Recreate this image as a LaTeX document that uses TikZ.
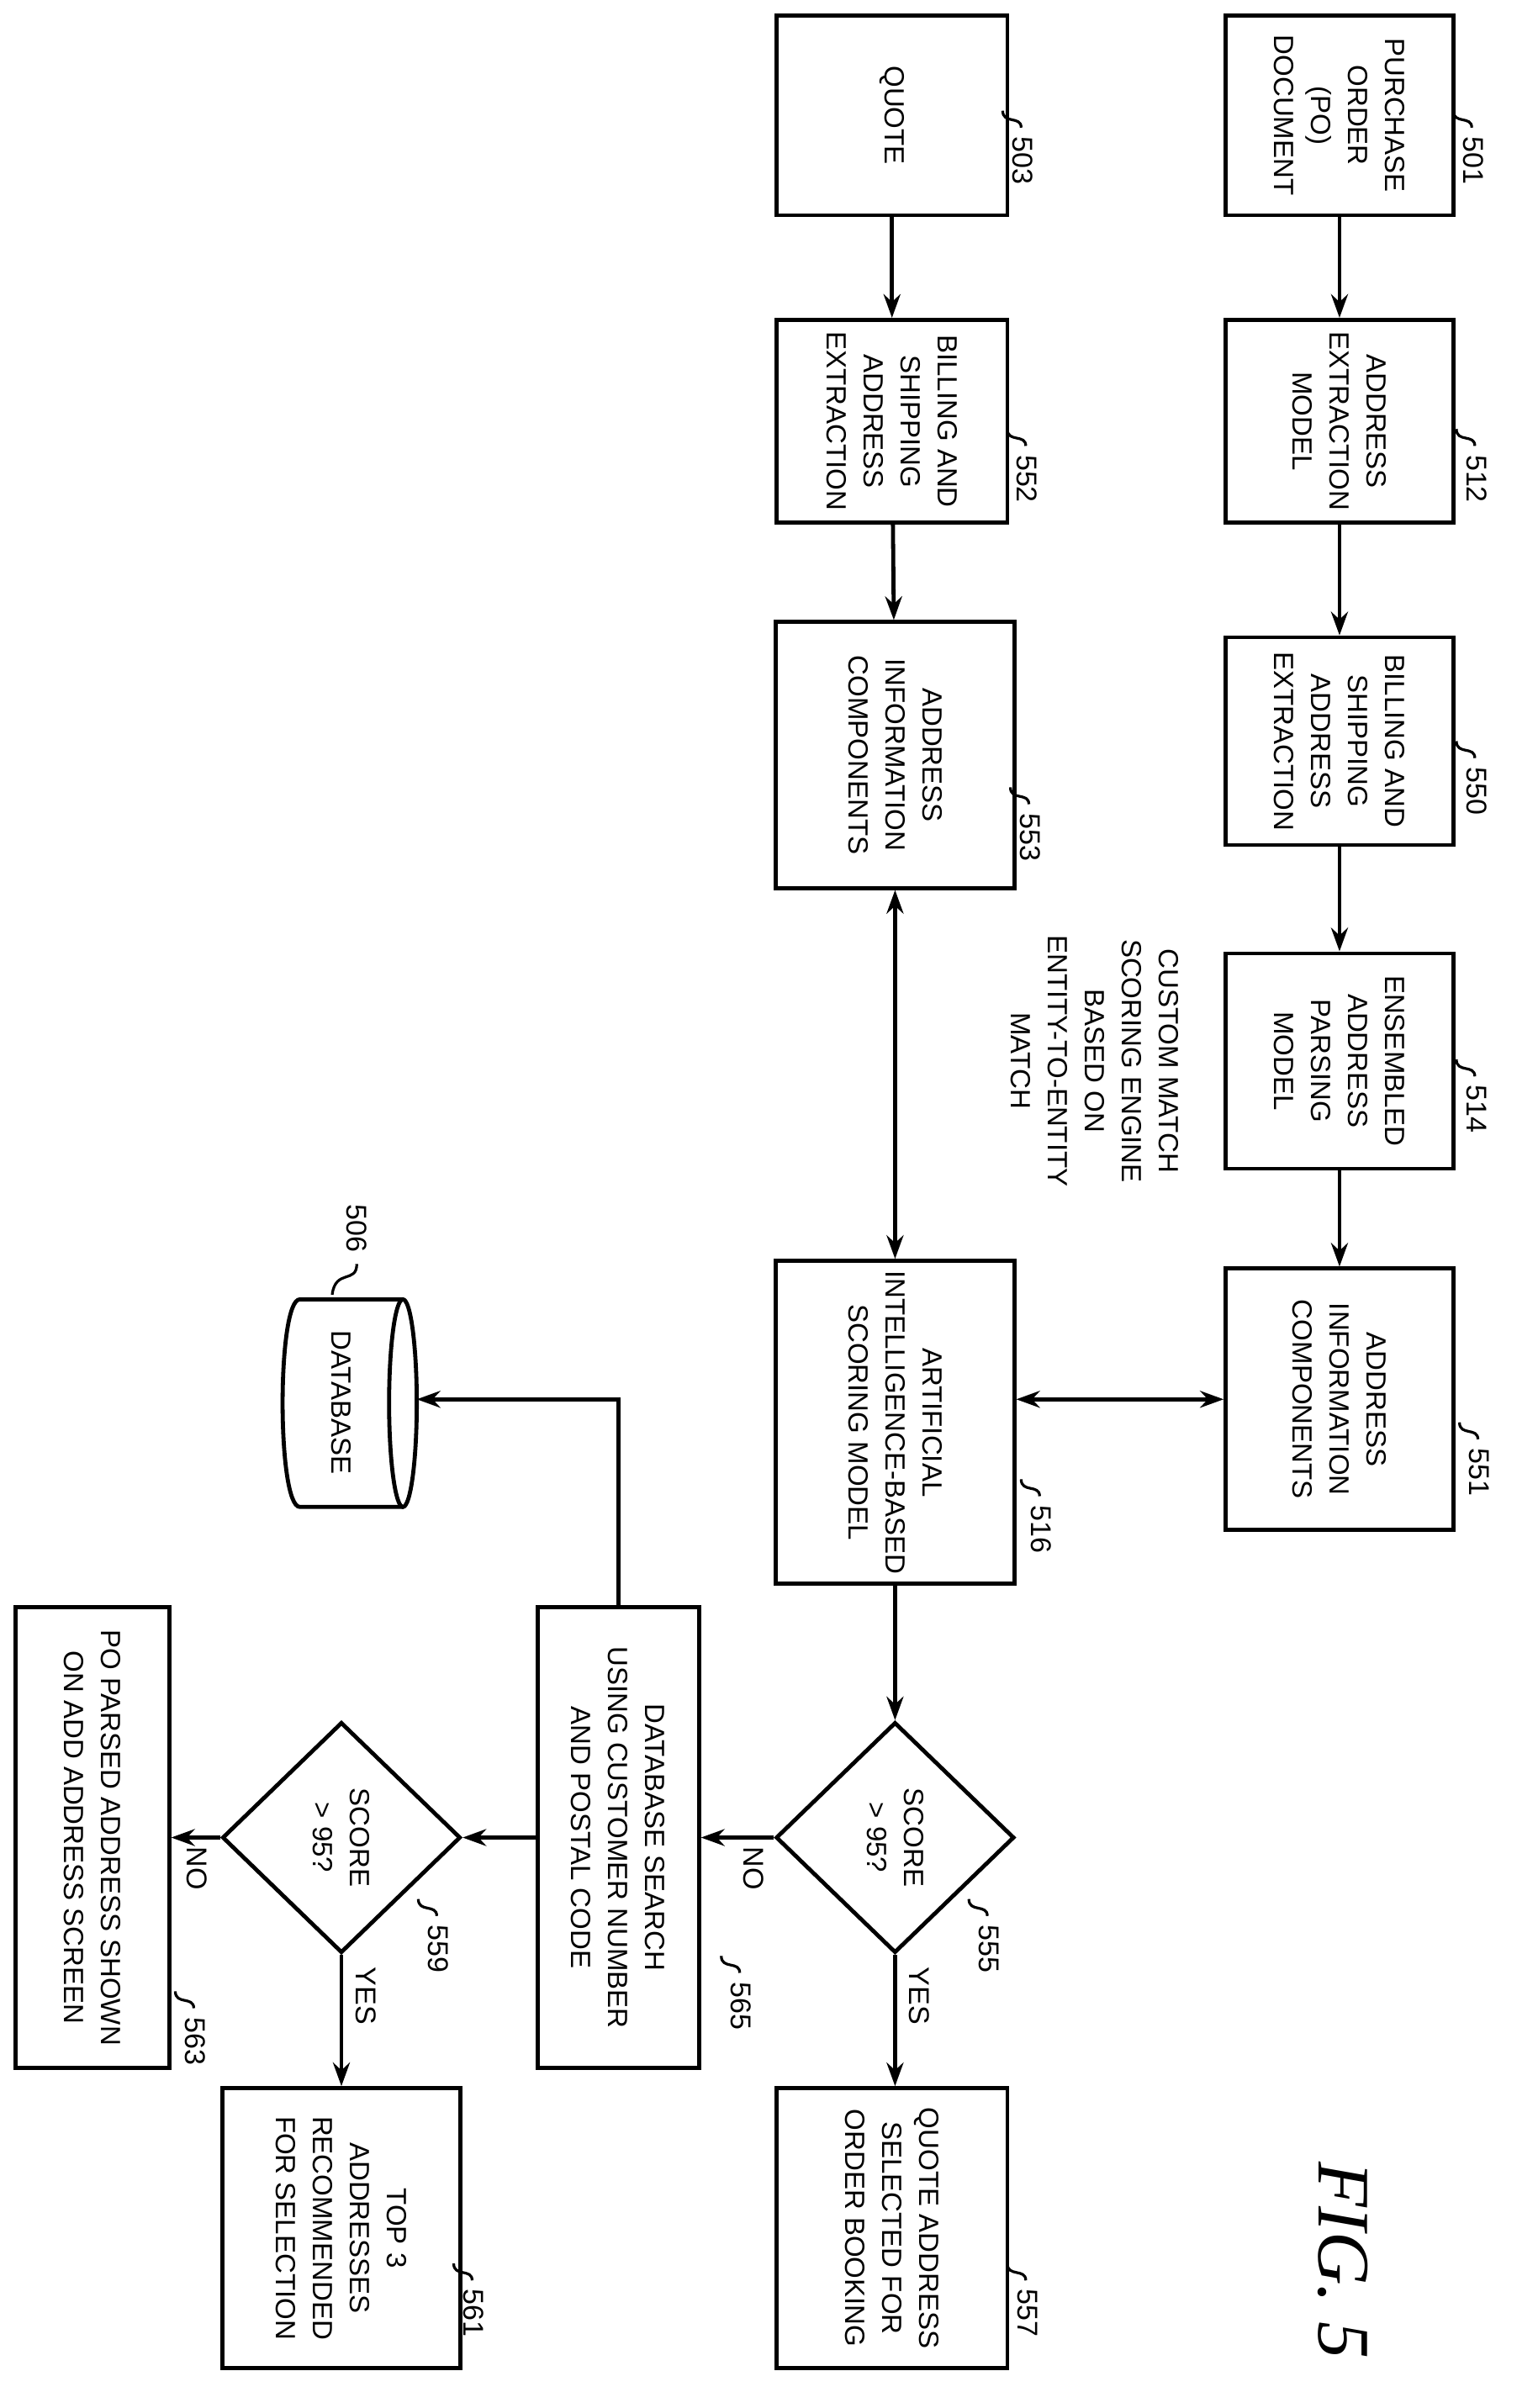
\documentclass[tikz,border=0pt]{standalone}
\usepackage{fontspec}
\setmainfont{Liberation Sans}
\newfontfamily\figfont{Liberation Serif}
\usetikzlibrary{shapes.geometric,arrows.meta}
\begin{document}
\def\u{0.914pt}
\begin{tikzpicture}[x=0.914pt,y=-0.914pt,
  box/.style={draw,line width=2.4pt,rotate=-90,align=center,inner sep=0pt,font=\fontsize{16.5}{22}\selectfont},
  txt/.style={rotate=-90,align=center,font=\fontsize{16.5}{22}\selectfont},
  lab/.style={rotate=-90,font=\fontsize{17}{20}\selectfont},
  dia/.style={draw,line width=2.4pt,diamond,inner sep=0pt},
  arr/.style={line width=2.4pt,-{Stealth[length=14pt,width=10pt]}},
  arr2/.style={line width=2.4pt,{Stealth[length=14pt,width=10pt]}-{Stealth[length=14pt,width=10pt]}},
  sq/.style={line width=1.6pt}]
\useasboundingbox (0,0) rectangle (1000,1566);
\node[box,minimum width=130*\u,minimum height=148*\u] (b501) at (871,75) {PURCHASE\\ORDER\\(PO)\\DOCUMENT};
\node[box,minimum width=130*\u,minimum height=150*\u] (b503) at (580,75) {QUOTE};
\node[box,minimum width=132*\u,minimum height=148*\u] (b512) at (871,274) {ADDRESS\\EXTRACTION\\MODEL};
\node[box,minimum width=132*\u,minimum height=150*\u] (b552) at (580,274) {BILLING AND\\SHIPPING\\ADDRESS\\EXTRACTION};
\node[box,minimum width=135*\u,minimum height=148*\u] (b550) at (871,482) {BILLING AND\\SHIPPING\\ADDRESS\\EXTRACTION};
\node[box,minimum width=173*\u,minimum height=155*\u] (b553) at (582,491) {ADDRESS\\INFORMATION\\COMPONENTS};
\node[box,minimum width=140*\u,minimum height=148*\u] (b514) at (871,690) {ENSEMBLED\\ADDRESS\\PARSING\\MODEL};
\node[box,minimum width=170*\u,minimum height=148*\u] (b551) at (871,910) {ADDRESS\\INFORMATION\\COMPONENTS};
\node[box,minimum width=210*\u,minimum height=155*\u] (b516) at (582,925) {ARTIFICIAL\\INTELLIGENCE-BASED\\SCORING MODEL};
\node[box,minimum width=182*\u,minimum height=150*\u] (b557) at (580,1449) {QUOTE ADDRESS\\SELECTED FOR\\ORDER BOOKING};
\node[box,minimum width=300*\u,minimum height=105*\u] (b565) at (402,1195) {DATABASE SEARCH\\USING CUSTOMER NUMBER\\AND POSTAL CODE};
\node[box,minimum width=182*\u,minimum height=155*\u] (b561) at (222,1449) {TOP 3\\ADDRESSES\\RECOMMENDED\\FOR SELECTION};
\node[box,minimum width=300*\u,minimum height=100*\u] (b563) at (60,1195) {PO PARSED ADDRESS SHOWN\\ON ADD ADDRESS SCREEN};
\node[dia,minimum width=155*\u,minimum height=150*\u] (d555) at (582,1195) {};
\node[txt] at (d555) {SCORE\\> 95?};
\node[dia,minimum width=155*\u,minimum height=150*\u] (d559) at (222,1195) {};
\node[txt] at (d559) {SCORE\\> 95?};
\draw[line width=2.4pt] (262,845) -- (195,845) .. controls (180,845) and (180,980) .. (195,980) -- (262,980);
\draw[line width=2.4pt] (262,912.5) ellipse [x radius=9, y radius=67.5];
\node[txt] at (222,912) {DATABASE};
\coordinate (dbr) at (271,910);
\node[txt] at (712,690) {CUSTOM MATCH\\SCORING ENGINE\\BASED ON\\ENTITY-TO-ENTITY\\MATCH};
\draw[arr] (b501) -- (b512);
\draw[arr] (b512) -- (b550);
\draw[arr] (b550) -- (b514);
\draw[arr] (b514) -- (b551);
\draw[arr] (b503) -- (b552);
\draw[arr] (b552) -- (b553);
\draw[arr2] (b553) -- (b516);
\draw[arr2] (b551.south) -- (b551.south -| b516.north);
\draw[arr] (b516) -- (d555);
\draw[arr] (d555.south) -- (d555.south |- b557.west);
\draw[arr] (d555.west) -- (d555.west -| b565.north);
\draw[arr] (b565.south) -- (d559.east);
\draw[arr] (d559.south) -- (d559.south |- b561.west);
\draw[arr] (d559.west) -- (d559.west -| b563.north);
\draw[arr] (b565.west) |- (dbr);
\node[lab] at (598,1298) {YES};
\node[lab] at (238,1298) {YES};
\node[lab] at (490,1215) {NO};
\node[lab] at (128,1215) {NO};
\foreach \x/\y/\t in {958/105/501,665/105/503,960/312/512,668/312/552,960/515/550,670/545/553,960/722/514,962/958/551,677/995/516,643/1268/555,482/1305/565,285/1268/559,127/1328/563,668/1505/557,308/1505/561}{
  \node[lab,anchor=west] at (\x,\y-20) {\t};
  \draw[sq] (\x-1,\y-22) .. controls (\x-1,\y-30) and (\x-13,\y-24) .. (\x-13,\y-33);
}
\node[lab,anchor=east] at (232,818) {506};
\draw[sq] (232,822) .. controls (232,835) and (218,825) .. (216,842);
\node[rotate=-90,font=\figfont\itshape\fontsize{44}{44}\selectfont] at (873,1470) {FIG.\ 5};
\end{tikzpicture}
\end{document}
